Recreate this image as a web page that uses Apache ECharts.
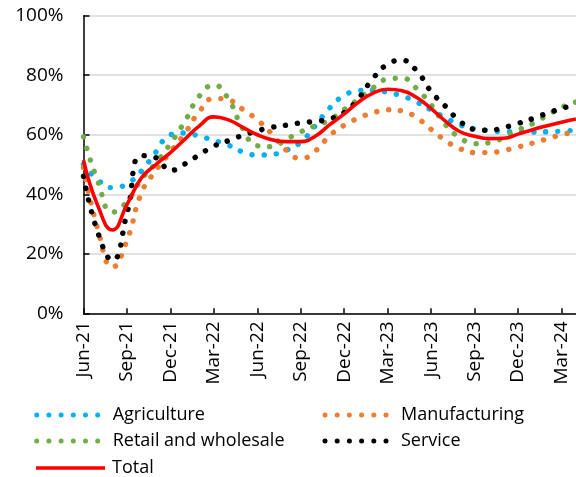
<!DOCTYPE html>
<html>
<head>
<meta charset="utf-8">
<script src="https://cdn.jsdelivr.net/npm/echarts@6/dist/echarts.min.js"></script>
<style>
html,body{margin:0;padding:0;background:#fff;}
#chart{width:576px;height:477px;}
</style>
</head>
<body>
<div id="chart"></div>
<script>
var months = ['Jun-21','Jul-21','Aug-21','Sep-21','Oct-21','Nov-21','Dec-21','Jan-22','Feb-22','Mar-22','Apr-22','May-22',
  'Jun-22','Jul-22','Aug-22','Sep-22','Oct-22','Nov-22','Dec-22','Jan-23','Feb-23','Mar-23','Apr-23','May-23',
  'Jun-23','Jul-23','Aug-23','Sep-23','Oct-23','Nov-23','Dec-23','Jan-24','Feb-24','Mar-24','Apr-24'];
var agriculture = [50,44.8,42.2,43.5,47.8,54.2,60,60.6,59.5,58.1,56.5,54.2,53.2,53.4,54.8,57.5,63,69,73.2,74.8,75,74.2,73,71,68.3,65.7,63.3,62,61.4,61,61,60.9,61,61.2,61.5];
var manufacturing = [49,28,15.5,24.5,40.5,48,54.2,60.5,67.8,72.2,71.7,68.5,65,60.3,54.8,52,54.5,59.7,63.2,65.6,67.4,68.4,68,65.7,61.8,58,55.3,54,54,54.7,55.9,57.2,58.6,60,61];
var retail = [59.3,44.2,34,37.5,45,50.5,57,64.5,73,76.7,72,62,56.3,56,58.5,61,63,65,68.5,72,75.8,78.7,79,75.5,70,63.3,59,57,57.3,59,61.6,63.7,66.5,69.2,71];
var service = [46,27,17.8,33.5,53,52.3,48,50.2,53.3,56.2,58,59.8,61.3,62.5,63.2,64,64.5,65.3,67.5,72.3,79,83.7,85,81.5,74.5,69.5,64.5,61.8,61.5,62.4,63.8,65.4,67.2,68.8,70.2];
var total = [51.5,36,28,36.5,45.5,50,54,58.5,63,66,65,62.5,60,58.3,57.7,57.7,59.5,63.4,67,71,74,75.3,74.8,72.5,68.8,64.5,61,59.5,58.7,58.8,60.2,61.7,63,64.2,65.3];

var FONT = 'Open Sans';
var chart = echarts.init(document.getElementById('chart'), null, {renderer:'canvas'});

// dotted legend icon: six round dots
var dotPath = 'path://';
for (var i = 0; i < 6; i++) {
  var cx = 2.5 + i * 12.2;
  dotPath += 'M' + (cx - 2.5) + ',2.5a2.5,2.5 0 1,0 5,0a2.5,2.5 0 1,0 -5,0';
}

function dotted(name, data, color){
  return {name:name, type:'line', data:data, smooth:true, symbol:'none', silent:true,
    lineStyle:{color:color, width:5.4, type:[0.1,12], cap:'round'}, itemStyle:{color:color}};
}
function leg(name, left, top){
  var isTotal = name === 'Total';
  return {data:[name], left:left, top:top,
    icon: isTotal ? 'rect' : dotPath,
    itemWidth: isTotal ? 69 : 66, itemHeight: isTotal ? 3.6 : 5,
    selectedMode:false, padding:0,
    textStyle:{fontFamily:FONT, fontSize:18, color:'#000', padding:[0,0,0,isTotal?2:7.5]}};
}
chart.setOption({
  animation:false,
  backgroundColor:'#fff',
  grid:{left:83.5, top:15.7, width:494.7, height:297.6, containLabel:false},
  legend:[
    leg('Agriculture',34.2,406),
    leg('Manufacturing',322.5,406),
    leg('Retail and wholesale',34.2,432),
    leg('Service',322.5,432),
    leg('Total',36,459)
  ],
  xAxis:{type:'category', data:months, boundaryGap:false,
    axisLine:{lineStyle:{color:'#000', width:1.5}},
    axisTick:{inside:true, length:5, interval:2, lineStyle:{color:'#000', width:1.5}},
    axisLabel:{interval:2, rotate:90, margin:8, fontFamily:FONT, fontSize:19, color:'#000'},
    splitLine:{show:false}},
  yAxis:{type:'value', min:0, max:100, interval:20,
    axisLine:{show:true, lineStyle:{color:'#000', width:1.5}},
    axisTick:{show:true, inside:true, length:6, lineStyle:{color:'#000', width:1.5}},
    axisLabel:{formatter:function(v){return v+'%';}, margin:20, fontFamily:FONT, fontSize:19, color:'#000'},
    splitLine:{show:true, lineStyle:{color:'#D9D9D9', width:1.5}}},
  series:[
    dotted('Agriculture', agriculture, '#00B0F0'),
    dotted('Manufacturing', manufacturing, '#ED7D31'),
    dotted('Retail and wholesale', retail, '#70AD47'),
    dotted('Service', service, '#000000'),
    {name:'Total', type:'line', data:total, smooth:true, symbol:'none', silent:true, z:5,
      lineStyle:{color:'#FF0000', width:3.6}, itemStyle:{color:'#FF0000'}}
  ]
});
</script>
</body>
</html>
